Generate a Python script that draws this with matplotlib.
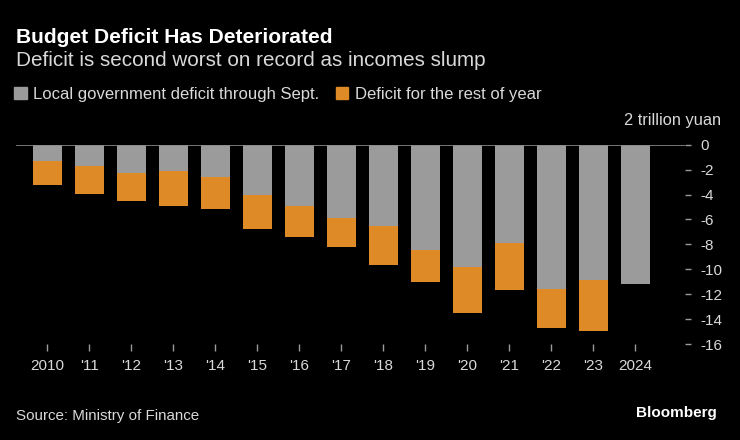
import matplotlib.pyplot as plt
from matplotlib.patches import Patch

# Data (trillion yuan, negative = deficit)
years = ["2010", "'11", "'12", "'13", "'14", "'15", "'16", "'17",
         "'18", "'19", "'20", "'21", "'22", "'23", "2024"]
through_sept = [-1.33, -1.74, -2.25, -2.09, -2.57, -4.07, -4.95, -5.91,
                -6.56, -8.46, -9.85, -7.93, -11.62, -10.90, -11.22]
full_year = [-3.26, -3.96, -4.52, -4.95, -5.14, -6.80, -7.44, -8.22,
             -9.64, -11.03, -13.55, -11.67, -14.75, -14.94, None]
rest_of_year = [(f - s) if f is not None else 0 for f, s in zip(full_year, through_sept)]
y_ticks = [0, -2, -4, -6, -8, -10, -12, -14, -16]
y_labels = ["0", "-2", "-4", "-6", "-8", "-10", "-12", "-14", "-16"]

GRAY = "#9b9b9b"
ORANGE = "#de8a26"
TEXT = "#d9d9d9"

plt.rcParams["font.family"] = ["Liberation Sans", "DejaVu Sans"]

fig = plt.figure(figsize=(7.4, 4.4), dpi=100, facecolor="black")
ax = fig.add_axes([16 / 740, 96 / 440, (685 - 16) / 740, (344 - 144.7) / 440])
ax.set_facecolor("black")

x = list(range(len(years)))
ax.bar(x, through_sept, width=0.69, color=GRAY, zorder=2)
ax.bar(x, rest_of_year, width=0.69, bottom=through_sept, color=ORANGE, zorder=2)
ax.axhline(0, color="#8a8a8a", lw=1.2, zorder=3)

ax.set_xlim(-0.75, 15.19)
ax.set_ylim(-16, 0)
for s in ax.spines.values():
    s.set_visible(False)

ax.set_xticks(x)
ax.set_xticklabels(years)
ax.yaxis.tick_right()
ax.set_yticks(y_ticks)
ax.set_yticklabels(y_labels)
ax.tick_params(axis="x", colors="#9a9a9a", labelcolor=TEXT, length=5, width=1,
               pad=6, labelsize=11)
ax.tick_params(axis="y", colors="#9a9a9a", labelcolor=TEXT, length=4, width=1,
               pad=7, labelsize=11)
for lab in ax.get_yticklabels():
    lab.set_horizontalalignment("left")

fig.text(16 / 740, 1 - 43 / 440, "Budget Deficit Has Deteriorated", color="white",
         fontsize=15.1, fontweight="bold", va="baseline")
fig.text(16 / 740, 1 - 66 / 440, "Deficit is second worst on record as incomes slump",
         color=TEXT, fontsize=14.9, va="baseline")

handles = [Patch(color=GRAY, label="Local government deficit through Sept."),
           Patch(color=ORANGE, label="Deficit for the rest of year")]
leg = fig.legend(handles=handles, loc="upper left", bbox_to_anchor=(14 / 740, 1 - 87 / 440),
                 ncol=2, frameon=False, fontsize=12, handlelength=0.75, handleheight=0.75,
                 handletextpad=0.4, columnspacing=1.0, borderpad=0, borderaxespad=0)
for t in leg.get_texts():
    t.set_color(TEXT)

fig.text(721 / 740, 1 - 120 / 440, "2 trillion yuan", color=TEXT, fontsize=11.8,
         ha="right", va="center")
fig.text(16 / 740, 1 - 416 / 440, "Source: Ministry of Finance", color=TEXT,
         fontsize=10.9, va="center")
fig.text(717 / 740, 1 - 413 / 440, "Bloomberg", color="white", fontsize=11,
         fontweight="bold", ha="right", va="center")

fig.savefig("out.png", dpi=100, facecolor="black")
